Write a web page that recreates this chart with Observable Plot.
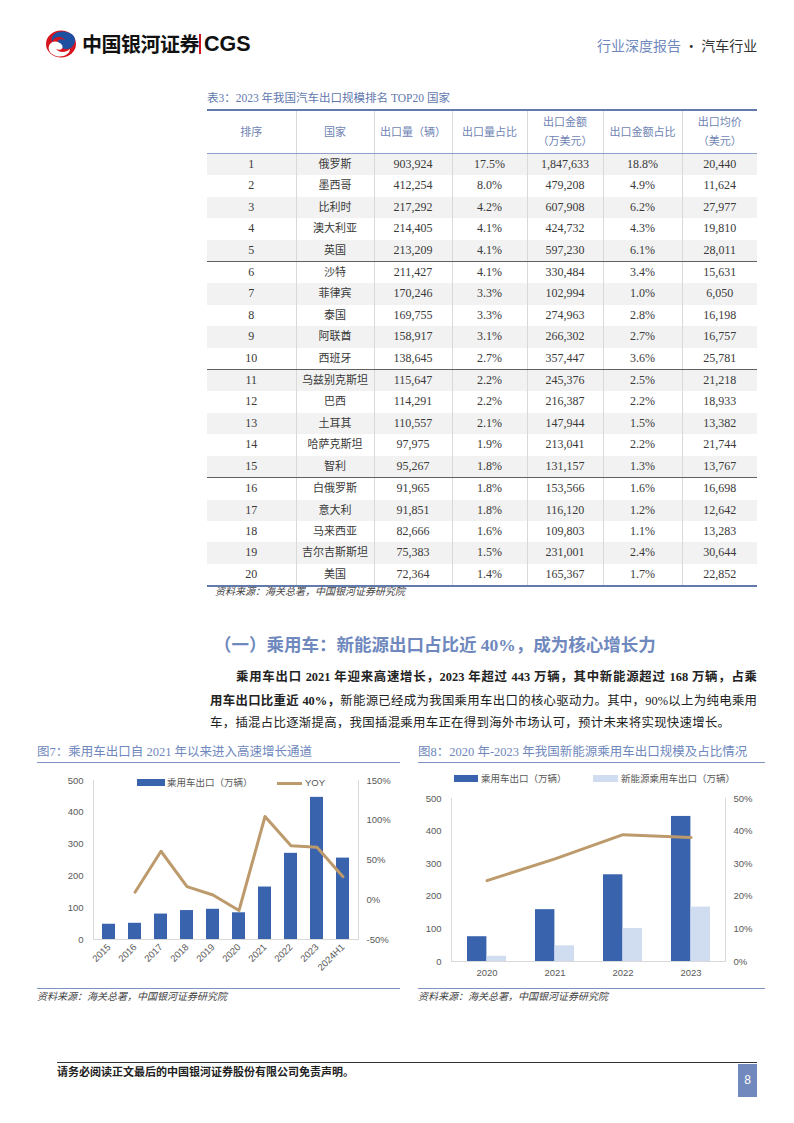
<!DOCTYPE html>
<html>
<head>
<meta charset="utf-8">
<script src="https://cdn.jsdelivr.net/npm/d3@7"></script>
<script src="https://cdn.jsdelivr.net/npm/@observablehq/plot@0.6"></script>
<style>
  html, body { margin: 0; padding: 0; background: #fff; }
  body { width: 794px; height: 1123px; position: relative; overflow: hidden;
         font-family: "Liberation Serif", "Noto Sans CJK SC", serif; color: #333; }
  .abs { position: absolute; white-space: nowrap; }
  .blue { color: #6f88bd; }
  table.t { border-collapse: collapse; table-layout: fixed; width: 550px; }
  table.t td { text-align: center; padding: 0; font-size: 12px; color: #3a3a3a; height: 21.4px; line-height: 21.4px;
               border-left: 1px solid #d9d9d9; }
  table.t td:first-child, table.t th:first-child { border-left: none; }
  table.t th { font-weight: normal; font-size: 11px; color: #6f84b4; height: 40px; line-height: 19px;
               border-left: 1px solid #d9d9d9; border-bottom: 1.5px solid #8fa2cc; border-top: 2.5px solid #6179ad; }
  table.t tr.odd td { background: #f2f2f2; }
  table.t tr.grp td { border-bottom: 1px solid #606060; }
  table.t tr.last td { border-bottom: 2.5px solid #6179ad; }
  table.t td.cn { font-size: 11px; }
  .src { font-style: italic; font-size: 10px; color: #444; }
  .figtitle { font-size: 12.5px; color: #6f88bd; }
  .rule { position: absolute; height: 0; border-top: 1.5px solid #7d93c2; }
  .leg { font-family: "Liberation Sans", "Noto Sans CJK SC", sans-serif; font-size: 9.5px; color: #595959; }
  .para { font-size: 12.4px; line-height: 18px; color: #222; }
  .just { text-align: justify; text-align-last: justify; white-space: normal; }
</style>
</head>
<body>
<script>
// ---------------- DATA ----------------
const ranks = ["1","2","3","4","5","6","7","8","9","10","11","12","13","14","15","16","17","18","19","20"];
const countries = ["俄罗斯","墨西哥","比利时","澳大利亚","英国","沙特","菲律宾","泰国","阿联酋","西班牙","乌兹别克斯坦","巴西","土耳其","哈萨克斯坦","智利","白俄罗斯","意大利","马来西亚","吉尔吉斯斯坦","美国"];
const volumes = ["903,924","412,254","217,292","214,405","213,209","211,427","170,246","169,755","158,917","138,645","115,647","114,291","110,557","97,975","95,267","91,965","91,851","82,666","75,383","72,364"];
const volumeShares = ["17.5%","8.0%","4.2%","4.1%","4.1%","4.1%","3.3%","3.3%","3.1%","2.7%","2.2%","2.2%","2.1%","1.9%","1.8%","1.8%","1.8%","1.6%","1.5%","1.4%"];
const amounts = ["1,847,633","479,208","607,908","424,732","597,230","330,484","102,994","274,963","266,302","357,447","245,376","216,387","147,944","213,041","131,157","153,566","116,120","109,803","231,001","165,367"];
const amountShares = ["18.8%","4.9%","6.2%","4.3%","6.1%","3.4%","1.0%","2.8%","2.7%","3.6%","2.5%","2.2%","1.5%","2.2%","1.3%","1.6%","1.2%","1.1%","2.4%","1.7%"];
const avgPrices = ["20,440","11,624","27,977","19,810","28,011","15,631","6,050","16,198","16,757","25,781","21,218","18,933","13,382","21,744","13,767","16,698","12,642","13,283","30,644","22,852"];
const tableHeaders = ["排序","国家","出口量（辆）","出口量占比","出口金额<br>（万美元）","出口金额占比","出口均价<br>（美元）"];

// Figure 7
const years7 = ["2015","2016","2017","2018","2019","2020","2021","2022","2023","2024H1"];
const exports7 = [48, 51, 80, 91, 95, 84, 165, 271, 447, 256];
const yoy7 = [null, 9.5, 61, 16.6, 6, -13.5, 104.7, 67.8, 66, 29];
const leftTicks7 = [0, 100, 200, 300, 400, 500];
const rightTicks7 = [-50, 0, 50, 100, 150];

// Figure 8
const years8 = ["2020","2021","2022","2023"];
const exports8 = [76, 159, 266, 445];
const nev8 = [16, 48, 101, 167];
const share8 = [24.8, 31.5, 38.9, 38.0];
const leftTicks8 = [0, 100, 200, 300, 400, 500];
const rightTicks8 = [0, 10, 20, 30, 40, 50];
</script>

<!-- Header -->
<svg class="abs" style="left:44px;top:29px" width="36" height="30" viewBox="0 0 36 30">
  <ellipse cx="17" cy="15" rx="15" ry="13.5" fill="#d7141d"/>
  <path d="M22 3 C31 4 34 12 28 18 C24 22 16 20 14 15 C12 11 17 9 21 11 C17 6 10 8 8 13 C6 6 13 1 22 3 Z" fill="#1f4fa0"/>
  <path d="M12 27 C5 25 3 19 6 15 C9 11 15 12 18 16 C20 20 16 22 12 20 C15 24 22 24 26 20 C26 25 19 29 12 27 Z" fill="#fff"/>
</svg>
<div class="abs" style="left:82px;top:30px;font-family:'Noto Sans CJK SC',sans-serif;font-weight:bold;font-size:20px;color:#111;line-height:28px;letter-spacing:-0.5px">中国银河证券</div>
<div class="abs" style="left:199px;top:34px;width:2px;height:20px;background:#d7141d"></div>
<div class="abs" style="left:204px;top:30px;font-family:'Liberation Sans',sans-serif;font-weight:bold;font-size:21.5px;color:#111;line-height:28px">CGS</div>
<div class="abs" style="left:597px;top:35px;font-family:'Noto Sans CJK SC',sans-serif;font-size:14px;line-height:20px"><span style="color:#6f88bd">行业深度报告</span><span style="color:#333"> · 汽车行业</span></div>

<!-- Table -->
<div class="abs blue" style="left:207px;top:90px;font-size:11.5px;line-height:16px;color:#5f78ad">表3：2023 年我国汽车出口规模排名 TOP20 国家</div>
<div class="abs" style="left:207px;top:109px">
  <table class="t" id="tbl">
    <colgroup><col style="width:89px"><col style="width:78px"><col style="width:78px"><col style="width:75px"><col style="width:76px"><col style="width:79px"><col style="width:75px"></colgroup>
  </table>
</div>
<div class="abs src" style="left:215px;top:585px;line-height:14px">资料来源：海关总署，中国银河证券研究院</div>

<!-- Section heading & paragraph -->
<div class="abs" style="left:214px;top:634px;font-size:17.5px;font-weight:bold;color:#6f88bd;line-height:22px">（一）乘用车：新能源出口占比近 40%，成为核心增长力</div>
<div class="abs para just" style="left:236px;top:668px;width:521px"><b>乘用车出口 2021 年迎来高速增长，2023 年超过 443 万辆，其中新能源超过 168 万辆，占乘</b></div>
<div class="abs para just" style="left:210px;top:692px;width:547px"><b>用车出口比重近 40%，</b>新能源已经成为我国乘用车出口的核心驱动力。其中，90%以上为纯电乘用</div>
<div class="abs para" style="left:210px;top:714px;letter-spacing:0.3px">车，插混占比逐渐提高，我国插混乘用车正在得到海外市场认可，预计未来将实现快速增长。</div>

<!-- Figure 7 -->
<div class="abs figtitle" style="left:37px;top:744px;line-height:16px">图7：乘用车出口自 2021 年以来进入高速增长通道</div>
<div class="rule" style="left:37px;top:762px;width:363px"></div>
<div class="abs" id="fig7" style="left:37px;top:770px"></div>
<div class="abs" style="left:137px;top:779px;width:28px;height:7px;background:#3a63ad"></div>
<div class="abs leg" style="left:167px;top:776px;line-height:13px">乘用车出口（万辆）</div>
<div class="abs" style="left:277px;top:781.5px;width:25px;height:3px;background:#bd9a6b"></div>
<div class="abs leg" style="left:305px;top:776px;line-height:13px">YOY</div>
<div class="rule" style="left:37px;top:988px;width:363px"></div>
<div class="abs src" style="left:37px;top:990px;line-height:14px">资料来源：海关总署，中国银河证券研究院</div>

<!-- Figure 8 -->
<div class="abs figtitle" style="left:418px;top:744px;line-height:16px">图8：2020 年-2023 年我国新能源乘用车出口规模及占比情况</div>
<div class="rule" style="left:418px;top:762px;width:347px"></div>
<div class="abs" id="fig8" style="left:418px;top:790px"></div>
<div class="abs" style="left:454px;top:775px;width:24px;height:7px;background:#3a63ad"></div>
<div class="abs leg" style="left:481px;top:772px;line-height:13px">乘用车出口（万辆）</div>
<div class="abs" style="left:593px;top:775px;width:25px;height:7px;background:#d0dcf0"></div>
<div class="abs leg" style="left:621px;top:772px;line-height:13px">新能源乘用车出口（万辆）</div>
<div class="rule" style="left:418px;top:988px;width:347px"></div>
<div class="abs src" style="left:418px;top:990px;line-height:14px">资料来源：海关总署，中国银河证券研究院</div>

<!-- Footer -->
<div class="abs" style="left:57px;top:1062px;width:700px;height:0;border-top:1.5px solid #333"></div>
<div class="abs" style="left:57px;top:1065px;font-size:11px;font-weight:bold;line-height:14px;color:#222">请务必阅读正文最后的中国银河证券股份有限公司免责声明。</div>
<div class="abs" style="left:738px;top:1064px;width:19px;height:33px;background:#7189bd;color:#fff;font-family:'Liberation Sans',sans-serif;font-size:12px;text-align:center;line-height:33px">8</div>

<script>
// ---------- Build table ----------
const tbl = document.getElementById("tbl");
const hr = document.createElement("tr");
tableHeaders.forEach(h => { const th = document.createElement("th"); th.innerHTML = h; hr.appendChild(th); });
tbl.appendChild(hr);
ranks.forEach((r, i) => {
  const tr = document.createElement("tr");
  const cls = [];
  if (i % 2 === 0) cls.push("odd");
  if (i === 4 || i === 9 || i === 14) cls.push("grp");
  if (i === ranks.length - 1) cls.push("last");
  tr.className = cls.join(" ");
  [r, countries[i], volumes[i], volumeShares[i], amounts[i], amountShares[i], avgPrices[i]].forEach((v, j) => {
    const td = document.createElement("td");
    if (j === 1) td.className = "cn";
    td.textContent = v;
    tr.appendChild(td);
  });
  tbl.appendChild(tr);
});

// ---------- Chart styles ----------
const tickStyle = { fontFamily: "Liberation Sans, Noto Sans CJK SC, sans-serif", fontSize: "9.5px", color: "#595959", background: "transparent", overflow: "visible" };
const BAR = "#3a63ad", NEV = "#d0dcf0", LINE = "#bd9a6b", GRID = "#d9d9d9";

// ---------- Figure 7 ----------
const r7 = [-50, 150];
const toL7 = v => (v - r7[0]) / (r7[1] - r7[0]) * 500;
const fromL7 = d => Math.round(d / 500 * (r7[1] - r7[0]) + r7[0]);
const data7 = years7.map((y, i) => ({ year: y, v: exports7[i], yoy: yoy7[i] }));
const fig7 = Plot.plot({
  width: 363, height: 214,
  marginLeft: 56, marginRight: 42, marginTop: 10, marginBottom: 45,
  style: tickStyle,
  x: { domain: years7, paddingInner: 0.5, paddingOuter: 0.25, label: null },
  y: { domain: [0, 500], label: null },
  marks: [
    Plot.frame({ anchor: "left", stroke: GRID }),
    Plot.frame({ anchor: "right", stroke: GRID }),
    Plot.frame({ anchor: "bottom", stroke: GRID }),
    Plot.barY(data7, { x: "year", y: "v", fill: BAR }),
    Plot.line(data7.filter(d => d.yoy != null), { x: "year", y: d => toL7(d.yoy), stroke: LINE, strokeWidth: 3 }),
    Plot.axisX({ tickSize: 0, tickRotate: -45, tickPadding: 6, label: null }),
    Plot.axisY({ ticks: leftTicks7, tickSize: 0, tickPadding: 10, label: null }),
    Plot.axisY({ anchor: "right", ticks: rightTicks7.map(toL7), tickFormat: d => fromL7(d) + "%", tickSize: 0, tickPadding: 8, label: null })
  ]
});
document.getElementById("fig7").appendChild(fig7);

// ---------- Figure 8 ----------
const r8 = [0, 50];
const toL8 = v => (v - r8[0]) / (r8[1] - r8[0]) * 500;
const fromL8 = d => Math.round(d / 500 * (r8[1] - r8[0]) + r8[0]);
const data8 = years8.map((y, i) => ({ year: y, all: exports8[i], nev: nev8[i], share: share8[i] }));
const fig8 = Plot.plot({
  width: 347, height: 196,
  marginLeft: 33, marginRight: 40, marginTop: 8, marginBottom: 25,
  style: tickStyle,
  x: { domain: years8, paddingInner: 0.43, paddingOuter: 0.215, label: null },
  y: { domain: [0, 500], label: null },
  marks: [
    Plot.frame({ anchor: "left", stroke: GRID }),
    Plot.frame({ anchor: "right", stroke: GRID }),
    Plot.frame({ anchor: "bottom", stroke: GRID }),
    Plot.barY(data8, { x: "year", y: "all", fill: BAR, insetRight: 19.6 }),
    Plot.barY(data8, { x: "year", y: "nev", fill: NEV, insetLeft: 19.6 }),
    Plot.line(data8, { x: "year", y: d => toL8(d.share), stroke: LINE, strokeWidth: 3 }),
    Plot.axisX({ tickSize: 0, tickPadding: 8, label: null }),
    Plot.axisY({ ticks: leftTicks8, tickSize: 0, tickPadding: 10, label: null }),
    Plot.axisY({ anchor: "right", ticks: rightTicks8.map(toL8), tickFormat: d => fromL8(d) + "%", tickSize: 0, tickPadding: 8, label: null })
  ]
});
document.getElementById("fig8").appendChild(fig8);
</script>
</body>
</html>
